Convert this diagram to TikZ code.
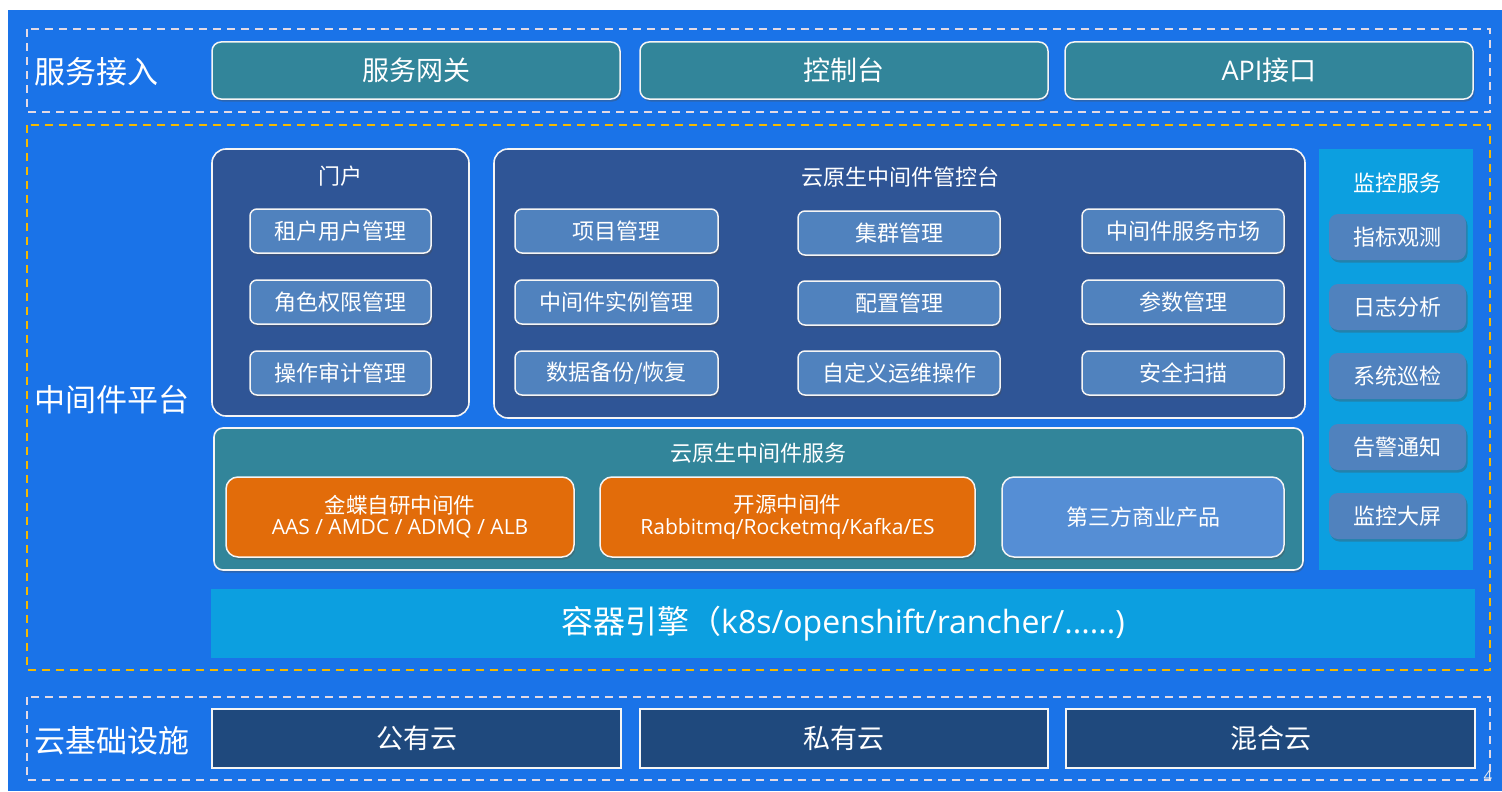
\documentclass[tikz,border=0pt]{standalone}
\usepackage{fontspec}
\setmainfont{Noto Sans CJK SC}
\newfontfamily\lat{Open Sans}
\usetikzlibrary{shadows}
\definecolor{bgblue}{RGB}{26,115,232}
\definecolor{tealc}{RGB}{50,133,154}
\definecolor{grpblue}{RGB}{47,85,150}
\definecolor{btnblue}{RGB}{80,130,190}
\definecolor{cyanc}{RGB}{12,159,224}
\definecolor{orangec}{RGB}{226,108,10}
\definecolor{thirdc}{RGB}{85,142,213}
\definecolor{navyc}{RGB}{31,73,125}
\definecolor{dashw}{RGB}{228,218,228}
\definecolor{dashy}{RGB}{245,185,0}
\newcommand\fs[1]{\fontsize{#1bp}{#1bp}\selectfont}
\tikzset{
  x=1bp, y=-1bp,
  every node/.style={inner sep=0pt, outer sep=0pt, text=white, align=center},
  nw/.style={anchor=north west},
  dashbox/.style={line width=2bp, dash pattern=on 8bp off 6bp},
  shd/.style={drop shadow={shadow xshift=1.5bp, shadow yshift=-2.5bp, opacity=0.35, fill=black!70}},
  topbox/.style={nw, rounded corners=9bp, draw=white!92!gray, line width=1.5bp, fill=tealc, shd, font=\fs{27}},
  grpbox/.style={nw, rounded corners=14bp, draw=white!92!gray, line width=1.6bp, fill=grpblue},
  btn/.style={nw, rounded corners=7bp, draw=white!92!gray, line width=1.5bp, fill=btnblue, shd, font=\fs{22}},
  monbtn/.style={nw, rounded corners=9bp, fill=btnblue, shd, font=\fs{22}},
  svcbtn/.style={nw, rounded corners=12bp, draw=white!92!gray, line width=1.5bp, shd},
  infra/.style={nw, draw=white!92!gray, line width=1.5bp, fill=navyc, font=\fs{27}},
  sidelabel/.style={anchor=west, font=\fs{31}},
  title/.style={font=\fs{22}}
}
\begin{document}
\begin{tikzpicture}
\useasboundingbox (0,0) rectangle (1502,791);
\fill[bgblue] (8,10) rectangle (1502,791);

% service access layer
\draw[dashw, dashbox] (27,29) rectangle (1490,112);
\node[sidelabel] (accesslbl) at (34,72) {服务接入};
\node[topbox, minimum width=408bp, minimum height=57bp] (gw) at (212,42) {服务网关};
\node[topbox, minimum width=408bp, minimum height=57bp] (console) at (640,42) {控制台};
\node[topbox, minimum width=408bp, minimum height=57bp] (api) at (1065,42) {{\lat API}接口};

% middleware platform
\draw[dashy, dashbox] (27,125) rectangle (1490,670);
\node[sidelabel] (platlbl) at (34,400) {中间件平台};

% portal
\node[grpbox, minimum width=257bp, minimum height=267bp] (portal) at (212,149) {};
\node[title] (portalt) at (340,176) {门户};
\node[btn, minimum width=181bp, minimum height=44bp] (p1) at (250,209) {租户用户管理};
\node[btn, minimum width=181bp, minimum height=44bp] (p2) at (250,280) {角色权限管理};
\node[btn, minimum width=181bp, minimum height=44bp] (p3) at (250,351) {操作审计管理};

% management console
\node[grpbox, minimum width=811bp, minimum height=269bp] (mgmt) at (494,149) {};
\node[title] (mgmtt) at (900,177) {云原生中间件管控台};
\node[btn, minimum width=203bp, minimum height=44bp] (m11) at (515,209) {项目管理};
\node[btn, minimum width=203bp, minimum height=44bp] (m21) at (515,280) {中间件实例管理};
\node[btn, minimum width=203bp, minimum height=44bp] (m31) at (515,351) {数据备份/恢复};
\node[btn, minimum width=202bp, minimum height=44bp] (m12) at (798,211) {集群管理};
\node[btn, minimum width=202bp, minimum height=44bp] (m22) at (798,281) {配置管理};
\node[btn, minimum width=202bp, minimum height=44bp] (m32) at (798,351) {自定义运维操作};
\node[btn, minimum width=202bp, minimum height=44bp] (m13) at (1082,209) {中间件服务市场};
\node[btn, minimum width=202bp, minimum height=44bp] (m23) at (1082,280) {参数管理};
\node[btn, minimum width=202bp, minimum height=44bp] (m33) at (1082,351) {安全扫描};

% monitoring
\node[nw, fill=cyanc, minimum width=154bp, minimum height=421bp] (mon) at (1319,149) {};
\node[title] (mont) at (1397,183) {监控服务};
\node[monbtn, minimum width=137bp, minimum height=46bp] (n1) at (1329,214) {指标观测};
\node[monbtn, minimum width=137bp, minimum height=46bp] (n2) at (1329,284) {日志分析};
\node[monbtn, minimum width=137bp, minimum height=46bp] (n3) at (1329,353) {系统巡检};
\node[monbtn, minimum width=137bp, minimum height=46bp] (n4) at (1329,424) {告警通知};
\node[monbtn, minimum width=137bp, minimum height=46bp] (n5) at (1329,493) {监控大屏};

% cloud-native services
\node[nw, rounded corners=9bp, draw=white!92!gray, line width=1.6bp, fill=tealc, shd, minimum width=1089bp, minimum height=142bp] (svc) at (214,428) {};
\node[title] (svct) at (758,453) {云原生中间件服务};
\node[svcbtn, fill=orangec, minimum width=348bp, minimum height=80bp] (kd) at (226,477) {{\fs{21.5}金蝶自研中间件}\\[3bp]{\fs{21}\lat AAS / AMDC / ADMQ / ALB}};
\node[svcbtn, fill=orangec, minimum width=375bp, minimum height=80bp] (os) at (600,477) {{\fs{21.5}开源中间件}\\[3bp]{\fs{21}\lat Rabbitmq/Rocketmq/Kafka/ES}};
\node[svcbtn, fill=thirdc, minimum width=282bp, minimum height=80bp, font=\fs{22}] (tp) at (1002,477) {第三方商业产品};

% container engine
\node[nw, fill=cyanc, minimum width=1264bp, minimum height=69bp, font=\fs{32}] (engine) at (211,589) {容器引擎（{\lat k8s/openshift/rancher/......)}};

% infrastructure
\draw[dashw, dashbox] (27,697) rectangle (1490,780);
\node[sidelabel] (infralbl) at (34,741) {云基础设施};
\node[infra, minimum width=409bp, minimum height=59bp] (pub) at (212,709) {公有云};
\node[infra, minimum width=408bp, minimum height=59bp] (priv) at (640,709) {私有云};
\node[infra, minimum width=409bp, minimum height=59bp] (hyb) at (1066,709) {混合云};
\node[font=\fs{15}, text=white!85!gray] (pg) at (1488,776) {\lat 4};
\end{tikzpicture}
\end{document}
